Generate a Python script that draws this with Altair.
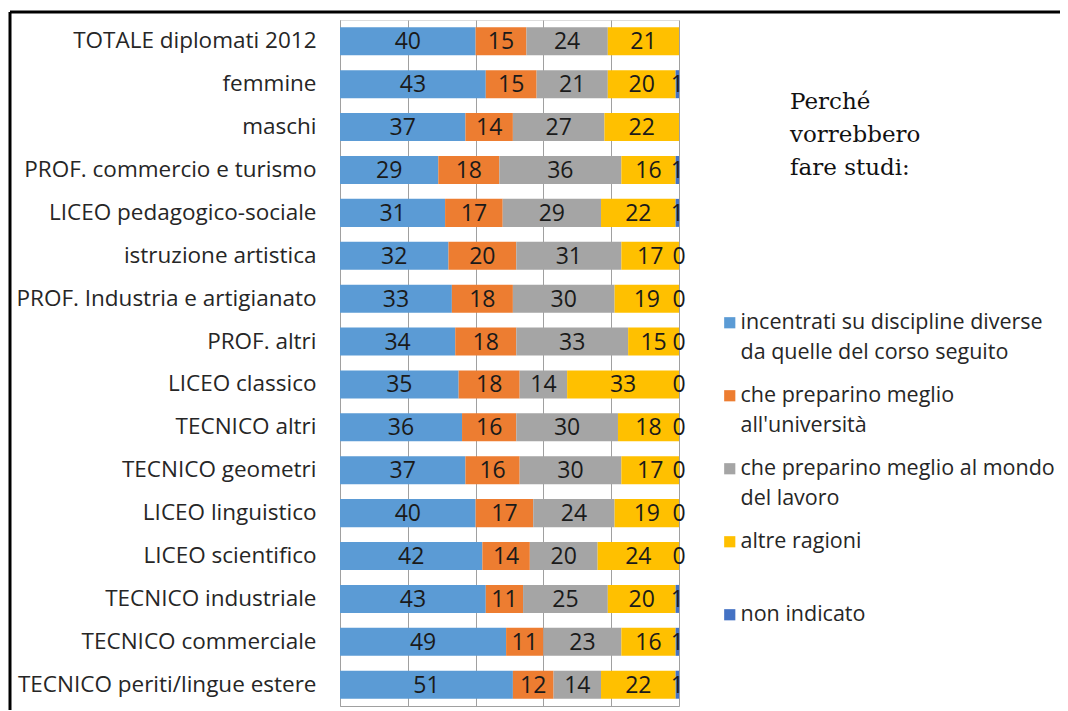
import altair as alt
import pandas as pd

categories = [
    "TOTALE diplomati 2012", "femmine", "maschi", "PROF. commercio e turismo",
    "LICEO pedagogico-sociale", "istruzione artistica", "PROF. Industria e artigianato",
    "PROF. altri", "LICEO classico", "TECNICO altri", "TECNICO geometri",
    "LICEO linguistico", "LICEO scientifico", "TECNICO industriale",
    "TECNICO commerciale", "TECNICO periti/lingue estere",
]
series = [
    "incentrati su discipline diverse\nda quelle del corso seguito",
    "che preparino meglio\nall'università",
    "che preparino meglio al mondo\ndel lavoro",
    "altre ragioni\n ",
    "non indicato\n ",
]
colors = ["#5B9BD5", "#ED7D31", "#A5A5A5", "#FFC000", "#4472C4"]

diverse = [40, 43, 37, 29, 31, 32, 33, 34, 35, 36, 37, 40, 42, 43, 49, 51]
universita = [15, 15, 14, 18, 17, 20, 18, 18, 18, 16, 16, 17, 14, 11, 11, 12]
lavoro = [24, 21, 27, 36, 29, 31, 30, 33, 14, 30, 30, 24, 20, 25, 23, 14]
altre = [21, 20, 22, 16, 22, 17, 19, 15, 33, 18, 17, 19, 24, 20, 16, 22]
non_indicato = [None, 1, None, 1, 1, 0, 0, 0, 0, 0, 0, 0, 0, 1, 1, 1]

title_lines = ["Perché", "vorrebbero", "fare studi:"]

values = [diverse, universita, lavoro, altre, non_indicato]
rows = []
for i, c in enumerate(categories):
    start = 0
    for j, s in enumerate(series):
        v = values[j][i]
        if v is None:
            continue
        rows.append(dict(cat=c, series=s, idx=j, v=v, start=start,
                         end=start + v, mid=start + v / 2))
        start += v
df = pd.DataFrame(rows)

SANS = "Open Sans"

yenc = alt.Y("cat:N", sort=categories,
             scale=alt.Scale(paddingInner=0.347, paddingOuter=0.17),
             axis=alt.Axis(title=None, labelFontSize=22.5, labelFont=SANS,
                           labelColor="#262626", labelPadding=24, ticks=False,
                           domainColor="#A0A0A0", labelLimit=400))

base = alt.Chart(df)
bars = base.mark_bar().encode(
    y=yenc,
    x=alt.X("start:Q", scale=alt.Scale(domain=[0, 100]),
            axis=alt.Axis(title=None, labels=False, ticks=False,
                          values=[0, 20, 40, 60, 80, 100], gridColor="#A0A0A0",
                          domainColor="#A0A0A0")),
    x2="end:Q",
    color=alt.Color("series:N", scale=alt.Scale(domain=series, range=colors),
                    legend=alt.Legend(title=None, orient="none", legendX=379,
                                      legendY=292, symbolType="square",
                                      symbolSize=125, symbolStrokeWidth=0,
                                      labelFontSize=21.5, labelFont=SANS,
                                      labelColor="#262626", labelLimit=0,
                                      labelOffset=0, rowPadding=20, padding=0,
                                      labelExpr="split(datum.label, '\\n')")),
    order=alt.Order("idx:Q"),
)
labels = base.mark_text(fontSize=23, font=SANS, color="#1a1a1a", dy=1).encode(
    y=alt.Y("cat:N", sort=categories),
    x=alt.X("mid:Q"),
    text="v:Q",
)

one = pd.DataFrame({"a": [0]})
title = alt.Chart(one).mark_text(text=title_lines, font="DejaVu Serif",
                                 fontSize=23, align="left", baseline="alphabetic",
                                 lineHeight=33, color="#111").encode(
    x=alt.value(450), y=alt.value(89))
frame_top = alt.Chart(one).mark_rule(color="black", strokeWidth=3).encode(
    x=alt.value(-330), x2=alt.value(760), y=alt.value(-8))
frame_left = alt.Chart(one).mark_rule(color="black", strokeWidth=3).encode(
    x=alt.value(-330), y=alt.value(-8), y2=alt.value(720))

chart = alt.layer(bars, labels, title, frame_top, frame_left).properties(
    width=339, height=686,
    autosize=alt.AutoSizeParams(type="none"),
    padding={"left": 332, "top": 12, "right": 381, "bottom": 4},
).configure_view(strokeWidth=0).configure(style={"guide-label": {"lineHeight": 30}})

chart.save("out.html", embed_options={"renderer": "svg", "actions": False})
